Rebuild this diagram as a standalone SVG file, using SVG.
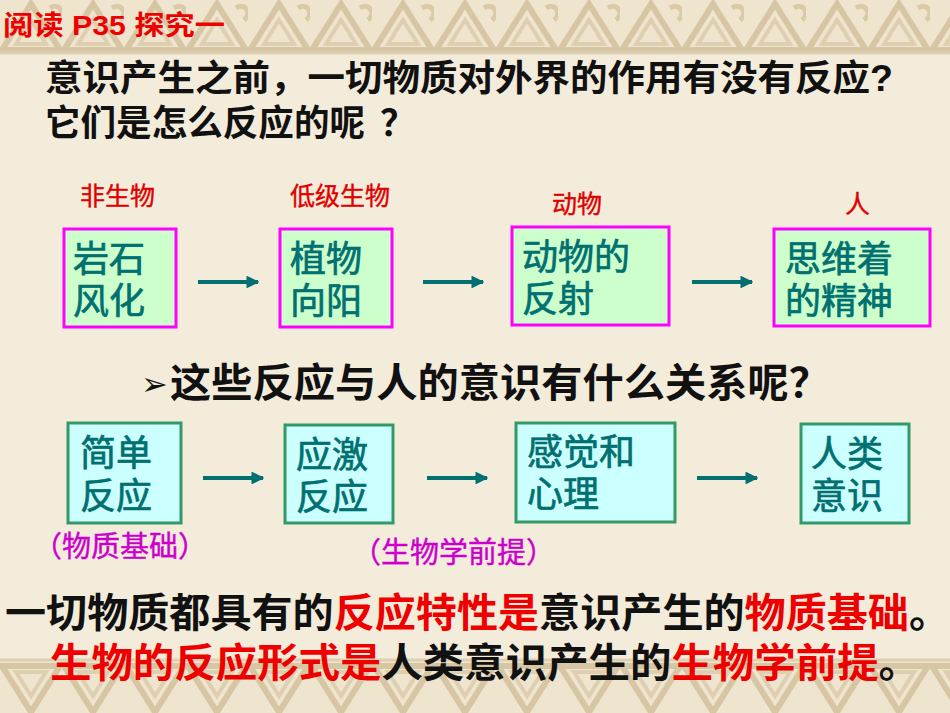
<svg xmlns="http://www.w3.org/2000/svg" width="950" height="713" viewBox="0 0 950 713">
<defs>
<style>
.cjk{font-family:"Liberation Sans","Noto Sans CJK SC",sans-serif}
.q{font-size:36px;font-weight:bold;fill:#111}
.lbl{font-size:25px;fill:#e00000;stroke:#e00000;stroke-width:0.4}
.bt{font-size:36px;fill:#007070;stroke:#007070;stroke-width:0.7}
.gbox{fill:#ccffcc;stroke:#ff00ff;stroke-width:3}
.cbox{fill:#ccffff;stroke:#339966;stroke-width:3}
.arr{stroke:#007070;stroke-width:4;fill:none}
.pur{font-size:29px;fill:#cc00cc;stroke:#cc00cc;stroke-width:0.4}
.big{font-size:40px;font-weight:bold}
.red{fill:#ee0000}
.blk{fill:#111}
</style>
<marker id="ah" viewBox="0 0 10 10" refX="9" refY="5" markerWidth="3.2" markerHeight="3.2" orient="auto" markerUnits="strokeWidth">
<path d="M0,0 L10,5 L0,10 z" fill="#007070"/>
</marker>
<pattern id="bandTop" x="0" y="0" width="62" height="55" patternUnits="userSpaceOnUse">
<rect width="62" height="55" fill="#efe5cf"/>
<path d="M2,50 L31,4 L60,50 z" fill="none" stroke="#d6c6a3" stroke-width="6"/>
<path d="M16,44 L31,20 L46,44 z" fill="none" stroke="#ddcfb0" stroke-width="4"/>
<path d="M50,8 C60,2 66,14 58,20" fill="none" stroke="#dacaa8" stroke-width="5"/>
</pattern>
<pattern id="bandBot" x="0" y="660" width="62" height="58" patternUnits="userSpaceOnUse">
<rect width="62" height="58" fill="#efe5cf"/>
<path d="M2,6 L31,52 L60,6 z" fill="none" stroke="#d6c6a3" stroke-width="6"/>
<path d="M16,12 L31,36 L46,12 z" fill="none" stroke="#ddcfb0" stroke-width="4"/>
</pattern>
</defs>

<rect width="950" height="713" fill="#f4ecda"/>
<rect x="0" y="0" width="950" height="53" fill="url(#bandTop)"/>
<line x1="0" y1="53" x2="950" y2="53" stroke="#ddd0b2" stroke-width="3"/>
<rect x="0" y="660" width="950" height="53" fill="url(#bandBot)"/>
<line x1="0" y1="660" x2="950" y2="660" stroke="#ddd0b2" stroke-width="3"/>

<g id="header">
<text x="3" y="35" class="cjk" font-size="27" font-weight="bold" fill="#ee0000" textLength="222" lengthAdjust="spacingAndGlyphs">阅读 P35 探究一</text>
</g>

<g id="question">
<text x="45" y="91" class="cjk q" textLength="848" lengthAdjust="spacingAndGlyphs">意识产生之前，一切物质对外界的作用有没有反应?</text>
<text x="45" y="136" class="cjk q"><tspan textLength="320" lengthAdjust="spacingAndGlyphs">它们是怎么反应的呢</tspan><tspan x="380">？</tspan></text>
</g>

<g id="label-feishengwu"><text x="80" y="205" class="cjk lbl">非生物</text></g>
<g id="label-dijishengwu"><text x="290" y="205" class="cjk lbl">低级生物</text></g>
<g id="label-dongwu"><text x="552" y="213" class="cjk lbl">动物</text></g>
<g id="label-ren"><text x="845" y="213" class="cjk lbl">人</text></g>

<g id="node-yanshi">
<rect x="64" y="229" width="112" height="98" class="gbox"/>
<text x="73" y="272" class="cjk bt">岩石</text>
<text x="73" y="314" class="cjk bt">风化</text>
</g>
<g id="node-zhiwu">
<rect x="280" y="229" width="112" height="98" class="gbox"/>
<text x="290" y="272" class="cjk bt">植物</text>
<text x="290" y="314" class="cjk bt">向阳</text>
</g>
<g id="node-dongwu">
<rect x="512" y="227" width="157" height="98" class="gbox"/>
<text x="522" y="270" class="cjk bt">动物的</text>
<text x="522" y="312" class="cjk bt">反射</text>
</g>
<g id="node-siwei">
<rect x="774" y="229" width="156" height="97" class="gbox"/>
<text x="785" y="272" class="cjk bt">思维着</text>
<text x="785" y="314" class="cjk bt">的精神</text>
</g>

<g id="question2">
<text x="141" y="395" font-family="DejaVu Sans,sans-serif" font-size="32" fill="#111">➢</text>
<text x="170" y="397" class="cjk q" style="font-size:40px" textLength="660" lengthAdjust="spacingAndGlyphs">这些反应与人的意识有什么关系呢？</text>
</g>

<g id="node-jiandan">
<rect x="68" y="423" width="113" height="100" class="cbox"/>
<text x="80" y="466" class="cjk bt">简单</text>
<text x="80" y="509" class="cjk bt">反应</text>
</g>
<g id="node-yingji">
<rect x="285" y="425" width="108" height="98" class="cbox"/>
<text x="296" y="468" class="cjk bt">应激</text>
<text x="296" y="510" class="cjk bt">反应</text>
</g>
<g id="node-ganjue">
<rect x="516" y="423" width="159" height="99" class="cbox"/>
<text x="527" y="465" class="cjk bt">感觉和</text>
<text x="527" y="507" class="cjk bt">心理</text>
</g>
<g id="node-renlei">
<rect x="801" y="424" width="108" height="99" class="cbox"/>
<text x="811" y="467" class="cjk bt">人类</text>
<text x="811" y="509" class="cjk bt">意识</text>
</g>

<g id="label-wuzhi"><text x="33" y="557" class="cjk pur">（物质基础）</text></g>
<g id="label-shengwuxue"><text x="352" y="563" class="cjk pur">（生物学前提）</text></g>

<g id="connectors">
<line x1="198" y1="282" x2="258" y2="282" class="arr" marker-end="url(#ah)"/>
<line x1="423" y1="282" x2="483" y2="282" class="arr" marker-end="url(#ah)"/>
<line x1="692" y1="282" x2="752" y2="282" class="arr" marker-end="url(#ah)"/>
<line x1="203" y1="478" x2="263" y2="478" class="arr" marker-end="url(#ah)"/>
<line x1="427" y1="478" x2="487" y2="478" class="arr" marker-end="url(#ah)"/>
<line x1="697" y1="478" x2="757" y2="478" class="arr" marker-end="url(#ah)"/>
</g>

<g id="conclusion">
<text x="5" y="627" class="cjk big" textLength="945" lengthAdjust="spacingAndGlyphs"><tspan class="blk">一切物质都具有的</tspan><tspan class="red">反应特性是</tspan><tspan class="blk">意识产生的</tspan><tspan class="red">物质基础</tspan><tspan class="blk">。</tspan></text>
<text x="50" y="677" class="cjk big" textLength="870" lengthAdjust="spacingAndGlyphs"><tspan class="red">生物的反应形式是</tspan><tspan class="blk">人类意识产生的</tspan><tspan class="red">生物学前提</tspan><tspan class="blk">。</tspan></text>
</g>
</svg>
